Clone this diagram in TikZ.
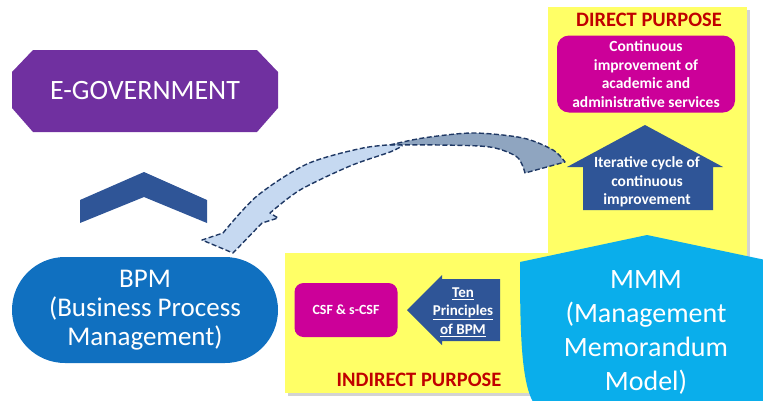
\documentclass[tikz,border=0pt]{standalone}
\usepackage{fontspec}
\setmainfont{Carlito}
\usetikzlibrary{shapes.misc,shadows}
\definecolor{egovpurple}{HTML}{7030A0}
\definecolor{chevblue}{HTML}{2F5597}
\definecolor{bpmblue}{HTML}{1070C0}
\definecolor{mmmblue}{HTML}{0AAEEB}
\definecolor{panelyellow}{HTML}{FFFF66}
\definecolor{boxmagenta}{HTML}{CC0099}
\definecolor{purposered}{HTML}{C00000}
\definecolor{ribbonlight}{HTML}{C6D9F1}
\definecolor{ribbondark}{HTML}{8FA5C0}
\definecolor{ribbonline}{HTML}{1F3864}

\begin{document}
\begin{tikzpicture}[x=1pt,y=-1pt,
  bigtext/.style={text=white, align=center, font=\fontsize{27}{29}\selectfont},
  smalltext/.style={text=white, align=center, font=\bfseries\fontsize{15.5}{18.5}\selectfont},
  purpose/.style={text=purposered, font=\bfseries\fontsize{20.5}{22}\selectfont},
  yellowpanel/.style={fill=panelyellow, drop shadow={shadow xshift=2.5pt, shadow yshift=-2.5pt, opacity=.35}},
  magentabox/.style={fill=boxmagenta, rounded corners=12pt, inner sep=0pt},
  ribbon/.style={draw=ribbonline, dash pattern=on 5pt off 2.5pt, line width=1.4pt, line join=round}]
\useasboundingbox (0,0) rectangle (763,400);

\path[yellowpanel] (285,253) rectangle (560,393);
\path[yellowpanel] (548,7) rectangle (747,300);
\fill[mmmblue] (533,402) .. controls (521,380) and (520,330) .. (520,262) -- (647,235) -- (775,262) -- (775,402) -- cycle;

\fill[egovpurple] (33,50) -- (257,50) -- (278,72) -- (278,108) -- (257,132) -- (33,132) -- (12,108) -- (12,72) -- cycle;
\node (egov) [text=white, font=\fontsize{28}{30}\selectfont] at (145,91) {E-GOVERNMENT};
\fill[chevblue] (80,223) -- (80,200) -- (144,172) -- (207,200) -- (207,223) -- (144,197) -- cycle;

\node (bpm) [bigtext, fill=bpmblue, rounded rectangle, minimum width=266pt, minimum height=106pt, inner sep=0pt] at (145,310) {BPM\\(Business Process\\Management)};
\node (mmm) [text=white, align=center, font=\fontsize{28}{34}\selectfont] at (646,332) {MMM\\(Management\\Memorandum\\Model)};

\node (direct) [purpose] at (649,20) {DIRECT PURPOSE};
\node (goal) [smalltext, magentabox, minimum width=178pt, minimum height=77pt] at (646,74) {Continuous\\improvement of\\academic and\\administrative services};
\fill[chevblue] (583,210) -- (583,167) -- (567,167) -- (645,125) -- (723,167) -- (713,167) -- (713,210) -- cycle;
\node (cycle) [smalltext] at (647,182) {Iterative cycle of\\continuous\\improvement};

\node (indirect) [purpose] at (419,380) {INDIRECT PURPOSE};
\node (csf) [smalltext, magentabox, rounded corners=9pt, minimum width=103pt, minimum height=54pt, font=\bfseries\fontsize{14}{18}\selectfont] at (346,310) {CSF \& s-CSF};
\fill[chevblue] (500,279) -- (442,279) -- (442,275) -- (407,310) -- (442,345) -- (442,341) -- (500,341) -- cycle;
\node (tenp) [smalltext, font=\bfseries\fontsize{15}{18.5}\selectfont] at (463,312) {\underline{Ten}\\\underline{Principles}\\\underline{of BPM}};

\path[ribbon, fill=ribbonlight] plot[smooth] coordinates {(402,144) (363,148) (307,164) (257,196) (223,233)}
  -- (202,240) -- (233,253) -- (262,223) -- (278,218) -- (270,213)
  -- plot[smooth] coordinates {(270,213) (300,190) (350,166) (390,152) (402,146)} -- cycle;
\path[ribbon, fill=ribbondark] plot[smooth] coordinates {(390,145) (423,138) (473,133) (523,138) (553,150) (565,162)}
  -- (525,173) -- plot[smooth] coordinates {(525,173) (517,157) (490,147) (440,145) (390,145)} -- cycle;
\end{tikzpicture}
\end{document}
